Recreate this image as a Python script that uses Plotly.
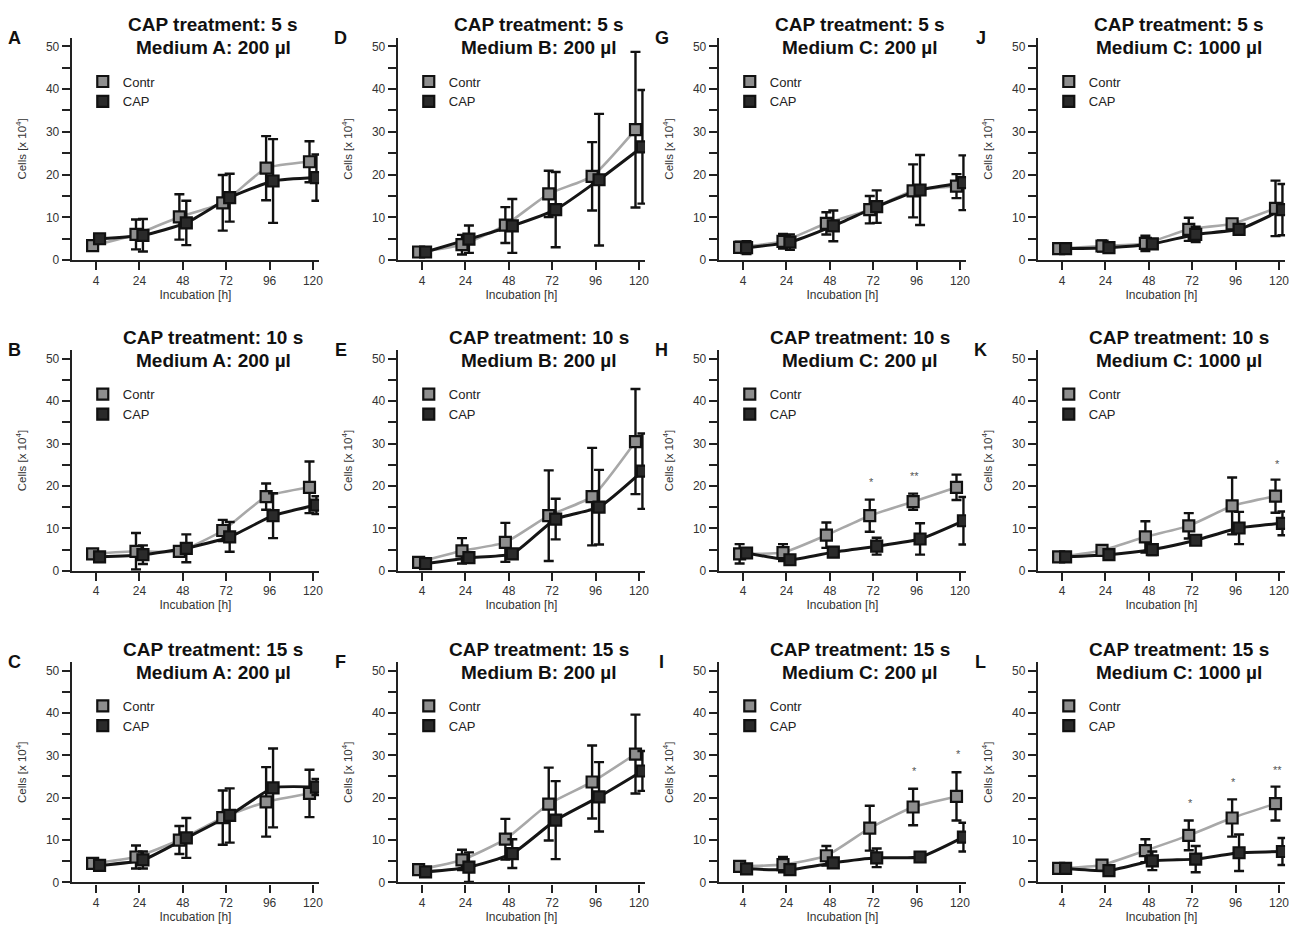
import plotly.graph_objects as go

W, H = 1297, 938

hours = ["4", "24", "48", "72", "96", "120"]
treat_times = ["CAP treatment: 5 s", "CAP treatment: 10 s", "CAP treatment: 15 s"]
media = ["Medium A: 200 µl", "Medium B: 200 µl", "Medium C: 200 µl", "Medium C: 1000 µl"]
letters = [["A", "B", "C"], ["D", "E", "F"], ["G", "H", "I"], ["J", "K", "L"]]
series_names = ["Contr", "CAP"]

# ---- data: mean and SD, cells [x 10^4] ----
contr_A = [3.4, 6.0, 10.1, 13.4, 21.5, 23.0]
contr_A_sd = [0.6, 3.5, 5.3, 6.5, 7.5, 4.8]
cap_A = [5.0, 5.8, 8.7, 14.6, 18.5, 19.3]
cap_A_sd = [0.6, 3.8, 5.2, 5.6, 9.8, 5.4]

contr_B = [4.0, 4.6, 4.6, 9.5, 17.5, 19.7]
contr_B_sd = [0.7, 4.3, 0.8, 2.5, 3.1, 6.1]
cap_B = [3.3, 3.8, 5.3, 8.0, 13.0, 15.5]
cap_B_sd = [0.7, 2.2, 3.3, 3.5, 5.3, 2.1]

contr_C = [4.5, 6.0, 10.0, 15.3, 19.0, 21.0]
contr_C_sd = [0.5, 2.7, 3.3, 6.4, 8.2, 5.6]
cap_C = [4.0, 5.3, 10.5, 15.8, 22.3, 22.5]
cap_C_sd = [0.5, 2.0, 4.7, 6.4, 9.3, 1.9]

contr_D = [1.9, 3.6, 8.2, 15.5, 19.6, 30.5]
contr_D_sd = [0.4, 2.3, 4.2, 5.4, 8.0, 18.2]
cap_D = [1.9, 4.9, 8.0, 11.8, 18.8, 26.5]
cap_D_sd = [0.4, 3.2, 6.3, 8.8, 15.4, 13.3]

contr_E = [2.0, 4.7, 6.7, 13.0, 17.5, 30.5]
contr_E_sd = [0.4, 3.0, 4.6, 10.7, 11.5, 12.4]
cap_E = [1.7, 3.1, 4.0, 12.2, 15.0, 23.5]
cap_E_sd = [0.4, 1.1, 1.0, 4.8, 8.8, 8.9]

contr_F = [3.0, 5.3, 10.2, 18.5, 23.7, 30.3]
contr_F_sd = [0.5, 2.4, 4.8, 8.6, 8.6, 9.3]
cap_F = [2.5, 3.6, 6.8, 14.7, 20.2, 26.3]
cap_F_sd = [0.5, 3.5, 3.4, 9.2, 8.2, 4.7]

contr_G = [3.0, 4.4, 8.6, 11.8, 16.2, 17.3]
contr_G_sd = [1.3, 1.7, 2.6, 3.2, 6.2, 2.8]
cap_G = [2.9, 4.2, 8.0, 12.5, 16.4, 18.1]
cap_G_sd = [1.5, 1.8, 3.6, 3.8, 8.2, 6.4]

contr_H = [4.0, 4.3, 8.4, 13.0, 16.3, 19.7]
contr_H_sd = [2.3, 2.0, 3.0, 3.8, 1.9, 3.0]
cap_H = [4.2, 2.6, 4.4, 5.8, 7.5, 11.8]
cap_H_sd = [0.9, 0.8, 1.0, 2.0, 3.7, 5.6]

contr_I = [3.8, 4.2, 6.3, 12.8, 17.8, 20.3]
contr_I_sd = [0.7, 1.8, 2.3, 5.3, 4.3, 5.7]
cap_I = [3.2, 3.0, 4.6, 5.8, 6.0, 10.7]
cap_I_sd = [0.5, 0.8, 1.0, 2.2, 0.5, 3.4]

contr_J = [2.7, 3.3, 3.9, 7.2, 8.5, 12.1]
contr_J_sd = [0.3, 1.3, 1.8, 2.7, 1.0, 6.5]
cap_J = [2.7, 2.9, 3.8, 6.0, 7.2, 11.8]
cap_J_sd = [0.3, 0.6, 1.0, 1.8, 1.1, 6.0]

contr_K = [3.3, 4.8, 8.0, 10.6, 15.3, 17.6]
contr_K_sd = [0.3, 0.7, 3.7, 3.0, 6.7, 3.9]
cap_K = [3.3, 3.8, 5.0, 7.2, 10.1, 11.2]
cap_K_sd = [0.3, 0.6, 1.3, 1.0, 3.8, 2.8]

contr_L = [3.3, 4.1, 7.5, 11.1, 15.2, 18.6]
contr_L_sd = [0.3, 0.5, 2.7, 3.5, 4.4, 4.0]
cap_L = [3.3, 2.8, 5.1, 5.5, 7.0, 7.3]
cap_L_sd = [0.3, 0.5, 2.2, 3.1, 4.3, 3.2]

# significance marks: (hour, label, height)
stars_H = [("72", "*", 21.0), ("96", "**", 22.3)]
stars_I = [("96", "*", 26.3), ("120", "*", 30.4)]
stars_K = [("120", "*", 25.2)]
stars_L = [("72", "*", 18.7), ("96", "*", 23.7), ("120", "**", 26.5)]

y_tick_vals = [0, 10, 20, 30, 40, 50]

data = {
    "A": (contr_A, contr_A_sd, cap_A, cap_A_sd, []),
    "B": (contr_B, contr_B_sd, cap_B, cap_B_sd, []),
    "C": (contr_C, contr_C_sd, cap_C, cap_C_sd, []),
    "D": (contr_D, contr_D_sd, cap_D, cap_D_sd, []),
    "E": (contr_E, contr_E_sd, cap_E, cap_E_sd, []),
    "F": (contr_F, contr_F_sd, cap_F, cap_F_sd, []),
    "G": (contr_G, contr_G_sd, cap_G, cap_G_sd, []),
    "H": (contr_H, contr_H_sd, cap_H, cap_H_sd, stars_H),
    "I": (contr_I, contr_I_sd, cap_I, cap_I_sd, stars_I),
    "J": (contr_J, contr_J_sd, cap_J, cap_J_sd, []),
    "K": (contr_K, contr_K_sd, cap_K, cap_K_sd, stars_K),
    "L": (contr_L, contr_L_sd, cap_L, cap_L_sd, stars_L),
}

# ---- layout geometry (pixels) ----
col_left = [64, 391, 713, 1033]
plot_w = 248
row_top = [30, 345, 659]
row_bot = [254, 567, 881]
x_range = [-0.56, 5.14]
y_range = [0, 52]
offset = 0.08

FONT = "Arial, Liberation Sans, sans-serif"
contr_line = "#a8a8a8"
contr_fill = "#8e8e8e"
cap_color = "#151515"

fig = go.Figure()
annotations = []
layout_extra = {}

idx_pos = list(range(len(hours)))
k = 0
for c in range(4):
    for r in range(3):
        k += 1
        letter = letters[c][r]
        contr, contr_sd, cap, cap_sd, stars = data[letter]
        xa = "x" if k == 1 else f"x{k}"
        ya = "y" if k == 1 else f"y{k}"
        lg = "legend" if k == 1 else f"legend{k}"
        xc = [i - offset for i in idx_pos]
        xp = [i + offset for i in idx_pos]

        fig.add_trace(go.Scatter(x=xc, y=contr, mode="lines", xaxis=xa, yaxis=ya,
                                 line=dict(color=contr_line, width=2.6, shape="spline", smoothing=0.5),
                                 showlegend=False, hoverinfo="skip"))
        fig.add_trace(go.Scatter(x=xp, y=cap, mode="lines", xaxis=xa, yaxis=ya,
                                 line=dict(color=cap_color, width=3, shape="spline", smoothing=0.5),
                                 showlegend=False, hoverinfo="skip"))
        fig.add_trace(go.Scatter(x=xc, y=contr, mode="markers", xaxis=xa, yaxis=ya,
                                 name=series_names[0], legend=lg,
                                 marker=dict(symbol="square", size=11, color=contr_fill,
                                             line=dict(color="#111111", width=2.2)),
                                 error_y=dict(type="data", array=contr_sd, visible=True,
                                              color="#111111", thickness=2.4, width=5)))
        fig.add_trace(go.Scatter(x=xp, y=cap, mode="markers", xaxis=xa, yaxis=ya,
                                 name=series_names[1], legend=lg,
                                 marker=dict(symbol="square", size=11, color="#2a2a2a",
                                             line=dict(color="#111111", width=2.2)),
                                 error_y=dict(type="data", array=cap_sd, visible=True,
                                              color="#111111", thickness=2.4, width=5)))

        left = col_left[c]
        top, bot = row_top[r], row_bot[r]
        xdom = [left / W, (left + plot_w) / W]
        ydom = [1 - bot / H, 1 - top / H]
        axis_x = dict(domain=xdom, anchor=ya, range=x_range, tickmode="array",
                      tickvals=idx_pos, ticktext=hours, ticks="outside", ticklen=8,
                      tickwidth=2, tickcolor="#222", showline=True, linewidth=2.2,
                      linecolor="#222", showgrid=False, zeroline=False,
                      tickfont=dict(family=FONT, size=12, color="#333"),
                      title=dict(text="Incubation [h]", standoff=3,
                                 font=dict(family=FONT, size=12, color="#333")))
        axis_y = dict(domain=ydom, anchor=xa, range=y_range, tickmode="array",
                      tickvals=y_tick_vals, ticks="outside", ticklen=8, tickwidth=2,
                      tickcolor="#222",
                      minor=dict(dtick=5, tick0=0, ticks="outside", ticklen=8,
                                 tickwidth=2, tickcolor="#222", showgrid=False),
                      showline=True, linewidth=2.2, linecolor="#222", showgrid=False,
                      zeroline=False, tickfont=dict(family=FONT, size=12, color="#333"),
                      title=dict(text="Cells [x 10<sup>4</sup>]", standoff=17,
                                 font=dict(family=FONT, size=11.5, color="#333")))
        layout_extra["xaxis" if k == 1 else f"xaxis{k}"] = axis_x
        layout_extra["yaxis" if k == 1 else f"yaxis{k}"] = axis_y
        layout_extra[lg] = dict(x=(left + 11) / W, y=1 - (top + 29) / H,
                                xanchor="left", yanchor="top", bgcolor="rgba(0,0,0,0)",
                                font=dict(family=FONT, size=13, color="#222"),
                                tracegroupgap=0, itemwidth=30)

        cx = left + 142
        annotations.append(dict(text=f"<b>{treat_times[r]}</b>", x=cx / W, y=1 - (top - 13) / H,
                                xref="paper", yref="paper", showarrow=False,
                                xanchor="center", yanchor="middle",
                                font=dict(family=FONT, size=19, color="#111")))
        annotations.append(dict(text=f"<b>{media[c]}</b>", x=cx / W, y=1 - (top + 10) / H,
                                xref="paper", yref="paper", showarrow=False,
                                xanchor="center", yanchor="middle",
                                font=dict(family=FONT, size=19, color="#111")))
        annotations.append(dict(text=f"<b>{letter}</b>", x=(left - 49) / W, y=1 - (top + 6) / H,
                                xref="paper", yref="paper", showarrow=False,
                                xanchor="center", yanchor="middle",
                                font=dict(family=FONT, size=18, color="#111")))
        for (hr, lab, yv) in stars:
            annotations.append(dict(text=lab, x=hours.index(hr) - 0.04, y=yv, xref=xa, yref=ya,
                                    showarrow=False, xanchor="center", yanchor="middle",
                                    font=dict(family=FONT, size=11, color="#555")))

# shift letters up/left slightly relative to the axes
for a in annotations:
    if a["text"] in [f"<b>{l}</b>" for col in letters for l in col]:
        a["x"] -= 8 / W
        a["y"] += 6 / H

fig.update_layout(width=W, height=H, margin=dict(l=0, r=0, t=0, b=0),
                  paper_bgcolor="white", plot_bgcolor="white",
                  annotations=annotations, **layout_extra)

fig.write_html("out.html")
